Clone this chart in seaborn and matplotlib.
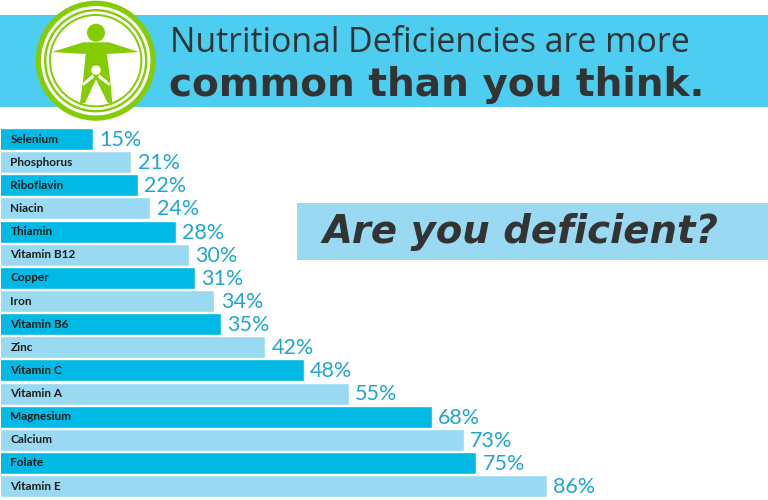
import matplotlib
matplotlib.use("Agg")

import matplotlib.pyplot as plt
import pandas as pd
import seaborn as sns
from matplotlib.patches import Circle, Polygon, Rectangle

nutrients = ["Selenium", "Phosphorus", "Riboflavin", "Niacin", "Thiamin", "Vitamin B12",
             "Copper", "Iron", "Vitamin B6", "Zinc", "Vitamin C", "Vitamin A",
             "Magnesium", "Calcium", "Folate", "Vitamin E"]
percents = [15, 21, 22, 24, 28, 30, 31, 34, 35, 42, 48, 55, 68, 73, 75, 86]
shades = ["dark", "light"] * 8

DARK_BAR = "#00B9E4"
LIGHT_BAR = "#99D9F2"
BANNER = "#4DCDEF"
GREEN = "#84CC04"
INK = "#333333"
PCT = "#1FA6CF"

sns.set_theme(style="white")

df = pd.DataFrame({"nutrient": nutrients, "percent": percents, "shade": shades})

fig = plt.figure(figsize=(7.68, 5), dpi=100)
ax = fig.add_axes([1 / 768, 0, 767 / 768, 1])
sns.barplot(data=df, y="nutrient", x="percent", hue="shade", dodge=False,
            palette={"dark": DARK_BAR, "light": LIGHT_BAR}, width=0.95,
            legend=False, saturation=1, ax=ax)
ax.set_xlim(0.63, 120.6)
ax.set_ylim(15.6, -6.01)
ax.axis("off")

for i, (name, pct) in enumerate(zip(nutrients, percents)):
    ax.text(2.1, i, name, va="center", ha="left", fontsize=8.5,
            fontweight="bold", family="Lato", color="#1c1c1c")
    ax.text(pct + 1.0, i + 0.04, f"{pct}%", va="center", ha="left", fontsize=15.5,
            family="Lato", color=PCT)

# overlay in pixel coordinates for the banners and the logo
top = fig.add_axes([0, 0, 1, 1])
top.set_xlim(0, 768)
top.set_ylim(500, 0)
top.axis("off")
top.patch.set_alpha(0)

top.add_patch(Rectangle((0, 15), 768, 92, color=BANNER, lw=0))
top.add_patch(Rectangle((297, 203), 471, 57, color=LIGHT_BAR, lw=0))

for radius, color in [(60, GREEN), (54.7, "white"), (51.7, GREEN), (49.3, "white"),
                      (46.7, GREEN), (44.7, "white")]:
    top.add_patch(Circle((95.7, 60.7), radius, color=color, lw=0))

# adult figure
top.add_patch(Circle((96, 32.7), 9, color=GREEN, lw=0))
top.add_patch(Polygon([(52, 52), (83.3, 42.3), (109, 42.3), (139, 52), (106.7, 54),
                       (110, 78), (112.3, 103), (107.7, 103), (96, 79.3), (85, 103),
                       (80, 103), (83.3, 78), (85.7, 54)], color=GREEN, lw=0))
# child cut out of it
top.add_patch(Circle((96, 70), 4.7, color="white", lw=0))
top.add_patch(Polygon([(93, 74), (82.3, 83.3), (83.3, 86), (94, 77.5)], color="white", lw=0))
top.add_patch(Polygon([(99, 74), (110, 83.3), (109, 86), (98, 77.5)], color="white", lw=0))

top.text(170, 43.5, "Nutritional Deficiencies are more", va="center", ha="left",
         fontsize=24.4, family="Open Sans", color=INK)
top.text(169, 85, "common than you think.", va="center", ha="left",
         fontsize=28.1, family="DejaVu Sans", fontweight="bold", color=INK)
top.text(323, 232, "Are you deficient?", va="center", ha="left",
         fontsize=27.8, family="DejaVu Sans", fontweight="bold", style="italic", color=INK)

fig.savefig("out.png", dpi=100)
